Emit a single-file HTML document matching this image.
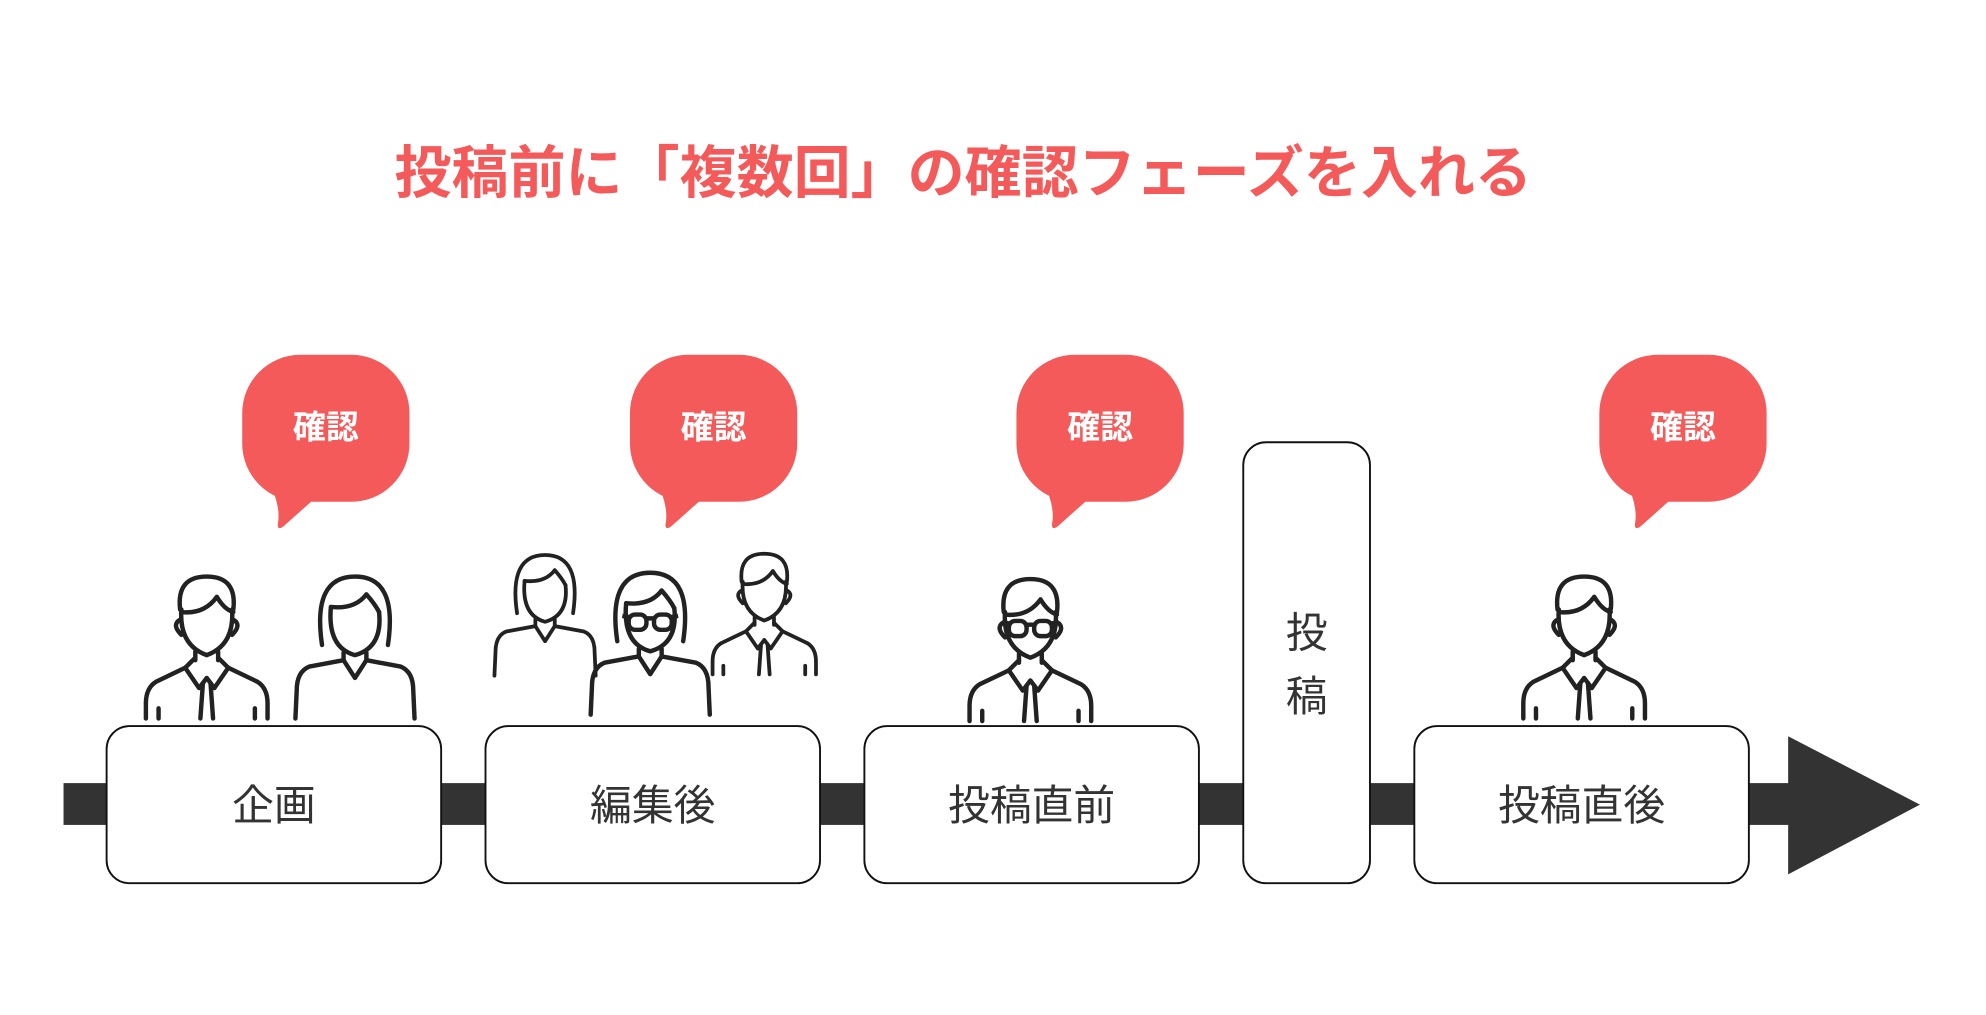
<!DOCTYPE html>
<html><head><meta charset="utf-8"><style>
html,body{margin:0;padding:0;background:#fff;}
svg{display:block;}
text{font-family:"Liberation Sans","Noto Sans CJK JP",sans-serif;}
</style></head><body>
<svg width="1986" height="1015" viewBox="0 0 1567 801" xmlns="http://www.w3.org/2000/svg">
<defs>
<g id="man" fill="none" stroke="#222" stroke-width="3.5" stroke-linecap="round" stroke-linejoin="round">
  <path d="M-21 26 Q-24 0 0 0 Q24 0 21 26"/>
  <path d="M-20 28 Q-2 30 8 16 Q14 26 21 28"/>
  <path d="M-20 26 Q-22 54 0 62 Q22 54 20 26"/>
  <path d="M-21 34 Q-28 38 -20 46 M21 34 Q28 38 20 46"/>
  <path d="M-9 59 L-9 66 M9 59 L9 66"/>
  <path d="M-9 64 L-17 72 L-6 88 L0 80 L6 88 L17 72 L9 64"/>
  <path d="M-3 84 L-5 112 M3 84 L5 112"/>
  <path d="M-17 72 L-40 83 Q-48 88 -48 100 L-48 112 M17 72 L40 83 Q48 88 48 100 L48 112"/>
  <path d="M-38 104 L-38 112 M38 104 L38 112"/>
</g>
<g id="woman" fill="none" stroke="#222" stroke-width="3.5" stroke-linecap="round" stroke-linejoin="round">
  <path d="M-26 54 Q-34 0 0 0 Q34 0 26 54"/>
  <path d="M-19 24 Q0 26 9 14 Q16 22 19 28"/>
  <path d="M-19 24 Q-22 56 0 62 Q22 56 19 28"/>
  <path d="M-9 60 L-9 66 M9 60 L9 66"/>
  <path d="M-9 66 L0 80 L9 66"/>
  <path d="M-9 66 L-36 71 Q-46 75 -46 90 L-47 112 M9 66 L36 71 Q46 75 46 90 L47 112"/>
</g>
<g id="glasses" fill="none" stroke="#222" stroke-width="3.5">
  <rect x="-17" y="33" width="14" height="12" rx="5"/>
  <rect x="3" y="33" width="14" height="12" rx="5"/>
  <path d="M-3 36 L3 36 M-17 35 L-22 34 M17 35 L22 34"/>
</g>
</defs>

<text x="760" y="152" text-anchor="middle" font-size="45" font-weight="bold" fill="#f55a5a">投稿前に「複数回」の確認フェーズを入れる</text>

<rect x="50" y="618" width="1362" height="33" fill="#333"/>
<polygon points="1411,581 1515,635 1411,690" fill="#333"/>

<g fill="#fff" stroke="#111" stroke-width="1.5">
  <rect x="84" y="573" width="264" height="124" rx="18"/>
  <rect x="383" y="573" width="264" height="124" rx="18"/>
  <rect x="682" y="573" width="264" height="124" rx="18"/>
  <rect x="981" y="349" width="100" height="348" rx="18"/>
  <rect x="1116" y="573" width="264" height="124" rx="18"/>
</g>
<g font-size="33" fill="#333" text-anchor="middle">
  <text x="216" y="647">企画</text>
  <text x="515" y="647">編集後</text>
  <text x="814" y="647">投稿直前</text>
  <text x="1248" y="647">投稿直後</text>
  <text x="1031" y="511">投</text>
  <text x="1031" y="561">稿</text>
</g>

<g fill="#f55a5a">
  <rect x="191" y="280" width="132" height="116" rx="46"/>
  <path d="M212 380 Q222 400 219 414 Q219 419 224 415 L252 390 Z"/>
  <rect x="497" y="280" width="132" height="116" rx="46"/>
  <path d="M518 380 Q528 400 525 414 Q525 419 530 415 L558 390 Z"/>
  <rect x="802" y="280" width="132" height="116" rx="46"/>
  <path d="M823 380 Q833 400 830 414 Q830 419 835 415 L863 390 Z"/>
  <rect x="1262" y="280" width="132" height="116" rx="46"/>
  <path d="M1283 380 Q1293 400 1290 414 Q1290 419 1295 415 L1323 390 Z"/>
</g>
<g font-size="26" font-weight="bold" fill="#fff" text-anchor="middle">
  <text x="257" y="346">確認</text>
  <text x="563" y="346">確認</text>
  <text x="868" y="346">確認</text>
  <text x="1328" y="346">確認</text>
</g>

<use href="#man" transform="translate(163,455)"/>
<use href="#woman" transform="translate(280,455)"/>
<use href="#woman" transform="translate(430,438) scale(0.85)"/>
<use href="#woman" transform="translate(513,452)"/>
<use href="#glasses" transform="translate(513,452)"/>
<use href="#man" transform="translate(603,437) scale(0.85)"/>
<use href="#man" transform="translate(813,457)"/>
<use href="#glasses" transform="translate(813,457)"/>
<use href="#man" transform="translate(1250,455)"/>
</svg>
</body></html>
